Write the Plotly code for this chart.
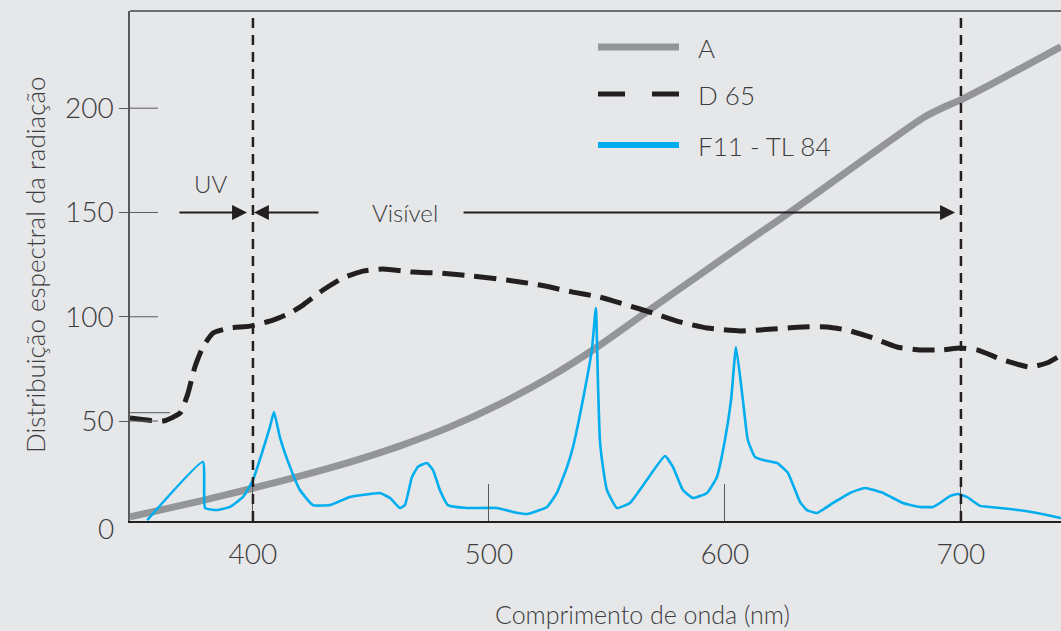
import plotly.graph_objects as go

# ---------------- data ----------------
wl_a = [347.9, 377.5, 398.7, 419.9, 441.1, 462.3, 483.5, 504.7, 525.8, 545.3, 568.2,
        589.4, 610.6, 627.9, 652.8, 674.2, 684.7, 693.2, 699.2, 716.5, 742.4]
val_a = [4.0, 11.6, 17.4, 23.6, 30.3, 38.1, 47.2, 58.2, 71.1, 85.0, 103.4,
         120.2, 137.0, 150.4, 170.5, 187.8, 195.9, 200.7, 203.6, 213.7, 229.5]

wl_d65 = [347.9, 361.9, 369.1, 372.5, 375.4, 378.8, 383.1, 390.3, 398.7, 408.5, 415.7,
          421.2, 429.7, 438.1, 446.6, 455.1, 467.8, 479.2, 493.2, 507.6, 521.6, 535.6,
          547.0, 558.5, 569.5, 580.9, 592.4, 606.4, 620.3, 633.1, 643.2, 651.7, 661.4,
          672.9, 682.6, 692.4, 699.6, 706.8, 717.8, 729.2, 736.4, 742.4]
val_d65 = [51.4, 50.0, 53.8, 63.4, 75.9, 85.5, 92.2, 94.6, 95.5, 98.4, 101.8,
           105.6, 112.8, 118.6, 121.9, 122.9, 121.4, 120.9, 119.5, 117.6, 115.2, 111.8,
           109.4, 105.6, 101.8, 97.5, 94.6, 93.2, 94.1, 95.1, 95.1, 93.6, 90.3,
           85.5, 84.1, 84.1, 85.0, 84.1, 79.3, 75.9, 77.8, 81.6]

wl_f11 = [355.2, 378.8, 379.7, 384.7, 390.3, 395.8, 400.0, 404.2, 407.2, 408.9, 411.4,
          415.7, 419.9, 425.4, 432.6, 441.1, 449.6, 453.8, 458.1, 462.3, 464.4, 467.4,
          469.9, 473.7, 476.3, 479.2, 482.6, 490.7, 503.4, 510.2, 516.1, 524.6, 528.8,
          533.1, 535.6, 539.8, 543.6, 545.3, 546.2, 547.0, 548.3, 550.0, 554.2, 559.7,
          566.9, 574.6, 578.0, 582.2, 586.4, 592.4, 596.6, 600.0, 602.6, 604.7, 607.6,
          609.7, 612.7, 616.1, 622.0, 626.7, 631.8, 634.7, 639.0, 645.8, 653.0, 659.3,
          667.0, 675.4, 682.6, 688.1, 691.1, 695.3, 698.7, 702.5, 708.1, 712.3, 720.8,
          732.2, 742.4]
val_f11 = [2.5, 30.4, 8.3, 7.3, 8.8, 13.6, 21.7, 36.1, 47.2, 54.3, 42.3,
           28.0, 16.9, 9.7, 9.7, 13.6, 15.0, 15.5, 13.1, 8.3, 9.7, 23.2,
           28.0, 29.9, 26.5, 16.9, 9.7, 8.3, 8.3, 6.4, 5.4, 8.8, 15.5,
           28.0, 37.5, 60.1, 84.1, 104.2, 68.2, 40.9, 28.0, 16.9, 8.3, 10.7,
           21.7, 33.2, 27.9, 16.9, 13.1, 15.5, 23.2, 40.9, 60.1, 85.5, 60.1,
           40.9, 32.8, 31.3, 29.9, 25.1, 11.2, 7.3, 5.9, 10.7, 15.5, 17.9,
           15.5, 10.7, 8.8, 8.8, 10.7, 14.0, 15.0, 13.6, 9.3, 8.8, 7.8,
           5.9, 3.5]

x_ticks = [400, 500, 600, 700]
y_ticks = [50, 100, 150, 200]
series_names = ["A", "D 65", "F11 - TL 84"]
region_bounds = [400, 700]
arrow_level = 150

# ---------------- style ----------------
BG = "#e6e7e9"
TXT = "#3c3c3e"
INK = "#231f20"
GRAY = "#939598"
BLUE = "#00aeef"
AXC = "#58595b"
FONT = "Lato"
FW = 300

X_RANGE = [347.9, 742.4]
Y_RANGE = [2.06, 246.6]

fig = go.Figure()
fig.add_trace(go.Scatter(x=wl_a, y=val_a, mode="lines", name=series_names[0],
                         line=dict(color=GRAY, width=7, shape="spline", smoothing=0.6),
                         showlegend=False))
fig.add_trace(go.Scatter(x=wl_d65, y=val_d65, mode="lines", name=series_names[1],
                         line=dict(color=INK, width=5, dash="22px,10px", shape="spline", smoothing=0.5),
                         showlegend=False))
fig.add_trace(go.Scatter(x=wl_f11, y=val_f11, mode="lines", name=series_names[2],
                         line=dict(color=BLUE, width=2.6, shape="spline", smoothing=0.4),
                         showlegend=False))

shapes = []
for b in region_bounds:
    shapes.append(dict(type="line", xref="x", yref="paper", x0=b, x1=b, y0=0, y1=1,
                       line=dict(color=INK, width=2.5, dash="10px,7px"), layer="above"))
shapes.append(dict(type="line", xref="paper", yref="paper", x0=0, x1=1, y0=1, y1=1,
                   line=dict(color="#6d6e71", width=2)))
for t in y_ticks:
    shapes.append(dict(type="line", xref="paper", yref="y", x0=0, x1=28 / 931, y0=t, y1=t,
                       line=dict(color=AXC, width=1)))
shapes.append(dict(type="line", xref="paper", yref="y", x0=0, x1=40 / 931, y0=54, y1=54,
                   line=dict(color=AXC, width=1)))

leg_x0, leg_x1 = (598 - 130) / 931, (679 - 130) / 931
leg_y = [(521 - 47) / 510, (521 - 94) / 510, (521 - 145) / 510]
shapes.append(dict(type="line", xref="paper", yref="paper", x0=leg_x0, x1=leg_x1,
                   y0=leg_y[0], y1=leg_y[0], line=dict(color=GRAY, width=7)))
shapes.append(dict(type="line", xref="paper", yref="paper", x0=leg_x0, x1=(625 - 130) / 931,
                   y0=leg_y[1], y1=leg_y[1], line=dict(color=INK, width=5)))
shapes.append(dict(type="line", xref="paper", yref="paper", x0=(652 - 130) / 931, x1=leg_x1,
                   y0=leg_y[1], y1=leg_y[1], line=dict(color=INK, width=5)))
shapes.append(dict(type="line", xref="paper", yref="paper", x0=leg_x0, x1=leg_x1,
                   y0=leg_y[2], y1=leg_y[2], line=dict(color=BLUE, width=6)))

def tfont(size):
    return dict(family=FONT, size=size, color=TXT, weight=FW)

annotations = []
for name, yy in zip(series_names, leg_y):
    annotations.append(dict(x=(696 - 130) / 931, y=yy - 0.002, xref="paper", yref="paper",
                            text=name, showarrow=False, xanchor="left", yanchor="middle",
                            font=tfont(26)))

arrow_style = dict(showarrow=True, arrowhead=2, arrowsize=1.5, arrowwidth=2, arrowcolor=INK,
                   xref="x", yref="y", axref="x", ayref="y", text="")
annotations.append(dict(x=397.5, y=arrow_level, ax=368.2, ay=arrow_level, **arrow_style))
annotations.append(dict(x=400.4, y=arrow_level, ax=428.4, ay=arrow_level, **arrow_style))
annotations.append(dict(x=697.5, y=arrow_level, ax=488.6, ay=arrow_level, **arrow_style))

annotations.append(dict(x=(210 - 130) / 931, y=(521 - 183) / 510, xref="paper", yref="paper",
                        text="UV", showarrow=False, xanchor="center", yanchor="middle",
                        font=tfont(24)))
annotations.append(dict(x=(405 - 130) / 931, y=(521 - 212) / 510, xref="paper", yref="paper",
                        text="Visível", showarrow=False, xanchor="center", yanchor="middle",
                        font=tfont(24)))
annotations.append(dict(x=(116 - 130) / 931, y=(521 - 528) / 510, xref="paper", yref="paper",
                        text="0", showarrow=False, xanchor="right", yanchor="middle",
                        font=tfont(28)))
annotations.append(dict(x=(35 - 130) / 931, y=(521 - 265) / 510, xref="paper", yref="paper",
                        text="Distribuição espectral da radiação", textangle=-90,
                        showarrow=False, xanchor="center", yanchor="middle",
                        font=tfont(26)))
annotations.append(dict(x=(642 - 130) / 931, y=(521 - 614) / 510, xref="paper", yref="paper",
                        text="Comprimento de onda (nm)", showarrow=False,
                        xanchor="center", yanchor="middle",
                        font=tfont(25)))

fig.update_layout(
    width=1061, height=631,
    margin=dict(l=130, r=0, t=11, b=110),
    paper_bgcolor=BG, plot_bgcolor=BG,
    shapes=shapes, annotations=annotations,
    showlegend=False,
    xaxis=dict(range=X_RANGE, tickvals=x_ticks, ticktext=[str(v) for v in x_ticks],
               showgrid=False, zeroline=False, showline=True, linecolor=INK, linewidth=1.5,
               ticks="inside", ticklen=37, tickwidth=1, tickcolor=AXC,
               ticklabelstandoff=8,
               tickfont=tfont(28)),
    yaxis=dict(range=Y_RANGE, tickvals=y_ticks, ticktext=[str(v) for v in y_ticks],
               showgrid=False, zeroline=False, showline=True, linecolor=AXC, linewidth=1.5,
               ticks="outside", ticklen=9, tickwidth=1, tickcolor=AXC,
               tickfont=tfont(28)),
)

fig.write_html("out.html", config={"displayModeBar": False},
               post_script="document.body.style.margin='0';document.body.style.overflow='hidden';")
